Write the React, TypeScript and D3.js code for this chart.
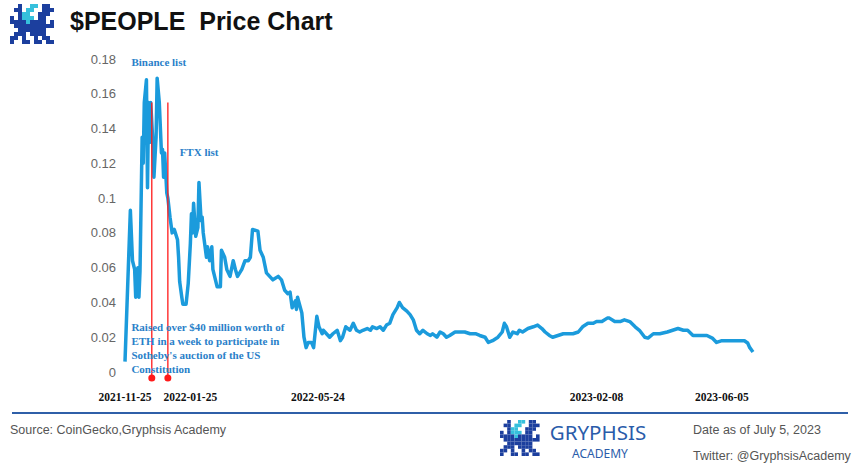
import React, { useEffect } from 'react';
import * as d3 from 'd3';

// daily closes (USD)
const priceDates = [
  '2021-11-25', '2021-11-30', '2021-12-02', '2021-12-04', '2021-12-05', '2021-12-07', '2021-12-08', '2021-12-09',
  '2021-12-11', '2021-12-12', '2021-12-13', '2021-12-15', '2021-12-16', '2021-12-17', '2021-12-18', '2021-12-19',
  '2021-12-21', '2021-12-22', '2021-12-24', '2021-12-25', '2021-12-27', '2021-12-29', '2021-12-30', '2021-12-31',
  '2022-01-01', '2022-01-03', '2022-01-04', '2022-01-06', '2022-01-08', '2022-01-10', '2022-01-13', '2022-01-14',
  '2022-01-15', '2022-01-17', '2022-01-18', '2022-01-21', '2022-01-23', '2022-01-25', '2022-01-26', '2022-01-27',
  '2022-01-28', '2022-01-30', '2022-02-01', '2022-02-02', '2022-02-04', '2022-02-05', '2022-02-06', '2022-02-09',
  '2022-02-10', '2022-02-12', '2022-02-14', '2022-02-15', '2022-02-19', '2022-02-22', '2022-02-23', '2022-02-26',
  '2022-02-28', '2022-03-03', '2022-03-06', '2022-03-08', '2022-03-10', '2022-03-14', '2022-03-17', '2022-03-20',
  '2022-03-22', '2022-03-24', '2022-03-29', '2022-03-31', '2022-04-03', '2022-04-06', '2022-04-09', '2022-04-12',
  '2022-04-17', '2022-04-20', '2022-04-23', '2022-04-26', '2022-04-28', '2022-04-30', '2022-05-03', '2022-05-04',
  '2022-05-05', '2022-05-09', '2022-05-11', '2022-05-13', '2022-05-15', '2022-05-18', '2022-05-20', '2022-05-23',
  '2022-05-25', '2022-05-28', '2022-05-29', '2022-06-01', '2022-06-04', '2022-06-07', '2022-06-11', '2022-06-14',
  '2022-06-16', '2022-06-19', '2022-06-23', '2022-06-26', '2022-06-29', '2022-07-02', '2022-07-05', '2022-07-09',
  '2022-07-12', '2022-07-14', '2022-07-18', '2022-07-21', '2022-07-24', '2022-07-27', '2022-07-30', '2022-08-02',
  '2022-08-06', '2022-08-08', '2022-08-11', '2022-08-15', '2022-08-18', '2022-08-21', '2022-08-24', '2022-08-27',
  '2022-08-30', '2022-09-03', '2022-09-06', '2022-09-08', '2022-09-12', '2022-09-15', '2022-09-18', '2022-09-21',
  '2022-09-24', '2022-09-29', '2022-10-04', '2022-10-08', '2022-10-13', '2022-10-18', '2022-10-22', '2022-10-27',
  '2022-10-30', '2022-11-03', '2022-11-08', '2022-11-12', '2022-11-14', '2022-11-16', '2022-11-19', '2022-11-22',
  '2022-11-26', '2022-11-28', '2022-12-01', '2022-12-06', '2022-12-11', '2022-12-15', '2022-12-19', '2022-12-22',
  '2022-12-26', '2022-12-29', '2023-01-03', '2023-01-08', '2023-01-12', '2023-01-17', '2023-01-22', '2023-01-26',
  '2023-01-31', '2023-02-05', '2023-02-08', '2023-02-13', '2023-02-18', '2023-02-20', '2023-02-25', '2023-03-02',
  '2023-03-06', '2023-03-11', '2023-03-16', '2023-03-20', '2023-03-25', '2023-03-28', '2023-04-02', '2023-04-08',
  '2023-04-15', '2023-04-20', '2023-04-25', '2023-04-30', '2023-05-04', '2023-05-09', '2023-05-15', '2023-05-22',
  '2023-05-27', '2023-05-31', '2023-06-05', '2023-06-10', '2023-06-15', '2023-06-22', '2023-06-26', '2023-06-29',
  '2023-07-01', '2023-07-04',
];

const priceValues = [
  0.006, 0.093, 0.064, 0.059, 0.043, 0.060, 0.043, 0.058,
  0.135, 0.120, 0.155, 0.168, 0.106, 0.155, 0.132, 0.155,
  0.132, 0.112, 0.135, 0.169, 0.155, 0.126, 0.128, 0.112,
  0.126, 0.103, 0.100, 0.089, 0.080, 0.082, 0.076, 0.066,
  0.052, 0.043, 0.039, 0.039, 0.051, 0.074, 0.091, 0.080,
  0.097, 0.078, 0.083, 0.109, 0.087, 0.089, 0.080, 0.066,
  0.072, 0.064, 0.072, 0.059, 0.049, 0.049, 0.070, 0.066,
  0.059, 0.055, 0.064, 0.059, 0.055, 0.059, 0.064, 0.064,
  0.066, 0.082, 0.081, 0.070, 0.066, 0.057, 0.055, 0.053,
  0.055, 0.053, 0.047, 0.045, 0.046, 0.037, 0.041, 0.036,
  0.043, 0.034, 0.020, 0.014, 0.017, 0.017, 0.014, 0.032,
  0.026, 0.022, 0.024, 0.022, 0.020, 0.022, 0.024, 0.018,
  0.020, 0.026, 0.024, 0.028, 0.024, 0.023, 0.024, 0.025,
  0.024, 0.026, 0.025, 0.026, 0.024, 0.027, 0.028, 0.033,
  0.037, 0.040, 0.037, 0.035, 0.033, 0.030, 0.024, 0.022,
  0.024, 0.022, 0.021, 0.022, 0.020, 0.023, 0.022, 0.020,
  0.021, 0.023, 0.023, 0.023, 0.022, 0.022, 0.021, 0.020,
  0.017, 0.018, 0.020, 0.023, 0.028, 0.026, 0.020, 0.023,
  0.022, 0.024, 0.023, 0.025, 0.026, 0.027, 0.025, 0.023,
  0.021, 0.020, 0.021, 0.022, 0.022, 0.022, 0.023, 0.026,
  0.028, 0.028, 0.029, 0.029, 0.031, 0.031, 0.029, 0.029,
  0.030, 0.029, 0.026, 0.024, 0.020, 0.0195, 0.022, 0.022,
  0.023, 0.024, 0.025, 0.024, 0.024, 0.021, 0.021, 0.021,
  0.0195, 0.017, 0.018, 0.018, 0.018, 0.018, 0.018, 0.0167,
  0.014, 0.0115,
];

const yTicks = [0, 0.02, 0.04, 0.06, 0.08, 0.1, 0.12, 0.14, 0.16, 0.18];
const xTickLabels = ['2021-11-25', '2022-01-25', '2022-05-24', '2023-02-08', '2023-06-05'];

// red event markers
const eventDates = ['2021-12-20', '2022-01-04'];
const eventTop = 0.155;

const noteBinance = { date: '2021-12-01', value: 0.176, lines: ['Binance list'] };
const noteFtx = { date: '2022-01-15', value: 0.124, lines: ['FTX list'] };
const noteRaise = {
  date: '2021-12-01',
  value: 0.0236,
  lines: [
    'Raised over $40 million worth of',
    'ETH in a week to participate in',
    "Sotheby's auction of the US",
    'Constitution',
  ],
};

// pixel griffin for the logos
const logoRows = [
  '..B..CC.BB.',
  '.BB.CC..BBB',
  '..BCC..BBB.',
  'B.BCCC.BB..',
  'BBBBCBBBB.B',
  '.BBBBBBBBBB',
  '..BBBBBBB..',
  '.BBB.BBBB..',
  'BB.B..B.BB.',
  'B..BB.BB.BB',
];

const W = 860;
const H = 467;
const parse = d3.timeParse('%Y-%m-%d');
const BLUE = '#1b9bdc';
const NOTE = '#2a7fc9';

const Logo = ({ x, y, cell }) => (
  <g transform={`translate(${x},${y})`}>
    {logoRows.map((row, r) =>
      row.split('').map((c, i) =>
        c === '.' ? null : (
          <rect key={`${r}-${i}`} x={i * cell} y={r * cell} width={cell} height={cell}
            fill={c === 'C' ? '#36c0dc' : '#1c3f9e'} />
        )
      )
    )}
  </g>
);

const App = () => {
  useEffect(() => {
    document.body.style.margin = '0';
  }, []);

  const data = priceDates.map((d, i) => ({ date: parse(d), value: priceValues[i] }));

  const x = d3.scaleTime()
    .domain([parse('2021-11-25'), parse('2023-07-04')])
    .range([125, 753]);
  const y = d3.scaleLinear().domain([0, 0.18]).range([372, 59]);

  const line = d3.line()
    .x(d => x(d.date))
    .y(d => y(d.value));

  const note = (n, key) => (
    <text key={key} x={x(parse(n.date))} y={y(n.value)} fill={NOTE}
      fontFamily="'Liberation Serif', 'Times New Roman', serif" fontWeight="bold" fontSize={11}>
      {n.lines.map((l, i) => (
        <tspan key={i} x={x(parse(n.date))} dy={i === 0 ? 0 : 14}>{l}</tspan>
      ))}
    </text>
  );

  return (
    <svg width={W} height={H} style={{ display: 'block', background: '#fff' }}>
      <Logo x={10} y={4} cell={4} />
      <text x={70} y={30} fontFamily="'Liberation Sans', Arial, sans-serif" fontWeight="bold" fontSize={25}
        fill="#111" style={{ whiteSpace: 'pre' }}>
        {'$PEOPLE  Price Chart'}
      </text>

      {/* y tick labels */}
      {yTicks.map(t => (
        <text key={t} x={116} y={y(t)} dy="0.35em" textAnchor="end" fill="#666"
          fontFamily="'Liberation Sans', Arial, sans-serif" fontSize={13}>
          {d3.format('~g')(t)}
        </text>
      ))}

      {/* x tick labels */}
      {xTickLabels.map(t => (
        <text key={t} x={x(parse(t))} y={401} textAnchor="middle" fill="#111"
          fontFamily="'Liberation Serif', 'Times New Roman', serif" fontWeight="bold" fontSize={11.5}>
          {t}
        </text>
      ))}

      <path d={line(data)} fill="none" stroke={BLUE} strokeWidth={3.5} strokeLinejoin="round" />

      {eventDates.map(d => (
        <g key={d}>
          <line x1={x(parse(d))} x2={x(parse(d))} y1={y(eventTop)} y2={378} stroke="#ff1a1a" strokeWidth={1.3} />
          <circle cx={x(parse(d))} cy={378} r={3.5} fill="#ff1a1a" />
        </g>
      ))}

      {note(noteBinance, 'b')}
      {note(noteFtx, 'f')}
      {note(noteRaise, 'r')}

      {/* footer */}
      <line x1={12} x2={848} y1={413} y2={413} stroke="#2f5fa8" strokeWidth={2} />
      <text x={10} y={434} fill="#555" fontFamily="'Liberation Sans', Arial, sans-serif" fontSize={12.5}>
        Source: CoinGecko,Gryphsis Academy
      </text>
      <Logo x={500} y={420} cell={3.6} />
      <text x={598} y={440} textAnchor="middle" fill="#2a5caa" fontFamily="'Noto Sans', 'DejaVu Sans', sans-serif" fontSize={20.5}>
        GRYPHSIS
      </text>
      <text x={600} y={458} textAnchor="middle" fill="#2a5caa" fontFamily="'Noto Sans', 'DejaVu Sans', sans-serif" fontSize={12}>
        ACADEMY
      </text>
      <text x={693} y={434} fill="#555" fontFamily="'Liberation Sans', Arial, sans-serif" fontSize={12.5}>
        Date as of July 5, 2023
      </text>
      <text x={693} y={460} fill="#555" fontFamily="'Liberation Sans', Arial, sans-serif" fontSize={12.5}>
        Twitter: @GryphsisAcademy
      </text>
    </svg>
  );
};

export default App;
